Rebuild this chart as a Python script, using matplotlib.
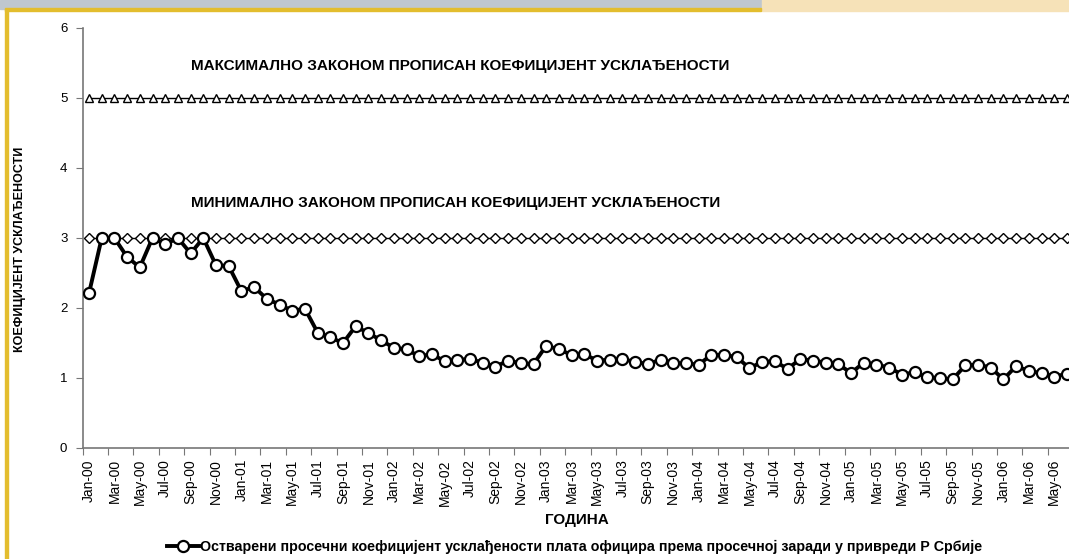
import matplotlib.pyplot as plt
from matplotlib.lines import Line2D
from matplotlib.patches import Rectangle

# Monthly labels Jan-00 .. Jun-06
MONTHS = ["Jan", "Feb", "Mar", "Apr", "May", "Jun",
          "Jul", "Aug", "Sep", "Oct", "Nov", "Dec"]
periods = [f"{m}-{y:02d}" for y in range(0, 7) for m in MONTHS][:78]

# achieved average coefficient
actual = [
    2.21, 3.00, 3.00, 2.73, 2.58, 3.00, 2.91, 3.00, 2.78, 3.00, 2.61, 2.60,
    2.24, 2.30, 2.13, 2.05, 1.96, 1.99, 1.65, 1.58, 1.50, 1.74, 1.64, 1.54,
    1.43, 1.41, 1.31, 1.34, 1.24, 1.26, 1.27, 1.22, 1.16, 1.25, 1.21, 1.20,
    1.46, 1.41, 1.33, 1.34, 1.25, 1.26, 1.27, 1.23, 1.20, 1.26, 1.21, 1.21,
    1.19, 1.33, 1.33, 1.30, 1.14, 1.23, 1.24, 1.13, 1.27, 1.25, 1.22, 1.20,
    1.07, 1.22, 1.19, 1.15, 1.05, 1.08, 1.01, 1.00, 0.98, 1.18, 1.19, 1.15,
    0.98, 1.17, 1.10, 1.07, 1.02, 1.06,
]
max_coef = [5.0] * len(periods)
min_coef = [3.0] * len(periods)

max_text = "МАКСИМАЛНО ЗАКОНОМ ПРОПИСАН КОЕФИЦИЈЕНТ УСКЛАЂЕНОСТИ"
min_text = "МИНИМАЛНО ЗАКОНОМ ПРОПИСАН КОЕФИЦИЈЕНТ УСКЛАЂЕНОСТИ"
legend_text = ("Остварени просечни коефицијент усклађености плата официра "
               "према просечној заради у привреди Р Србије")

plt.rcParams["font.family"] = ["Liberation Sans", "DejaVu Sans"]

W, H = 1069, 559
fig = plt.figure(figsize=(W / 100, H / 100), dpi=100)
fig.patch.set_facecolor("white")

# page decoration around the scanned chart
fig.add_artist(Rectangle((0, 1 - 9 / H), 761 / W, 9 / H, transform=fig.transFigure,
                         color="#bfc7cf", zorder=0))
fig.add_artist(Rectangle((762 / W, 1 - 11 / H), 1 - 762 / W, 11 / H,
                         transform=fig.transFigure, color="#f6e2b8", zorder=0))
fig.add_artist(Rectangle((5 / W, 1 - 11 / H), 756 / W, 3 / H, transform=fig.transFigure,
                         color="#e3bd2e", zorder=1))
fig.add_artist(Rectangle((5 / W, 0), 3 / W, 1 - 9 / H, transform=fig.transFigure,
                         color="#e3bd2e", zorder=1))

step = 12.7
left = 89 - step / 2
ax = fig.add_axes([left / W, 1 - 448 / H, step * len(periods) / W, (448 - 28) / H])
x = list(range(len(periods)))

ax.plot(x, max_coef, color="black", lw=1.0, marker="^", ms=5.5,
        mfc="white", mec="black", mew=1.0)
ax.plot(x, min_coef, color="black", lw=1.0, marker="D", ms=5.5,
        mfc="white", mec="black", mew=1.0)
ax.plot(x, actual, color="black", lw=2.8, marker="o", ms=8,
        mfc="white", mec="black", mew=1.6, zorder=5)

ax.set_xlim(-0.5, len(periods) - 0.5)
ax.set_ylim(0, 6)
ax.set_yticks(range(0, 7))
ax.tick_params(axis="y", labelsize=9.5, length=5, color="#777777", pad=6)

# tick marks between categories, labels at every second month
ax.set_xticks([i - 0.5 for i in range(0, len(periods), 2)])
ax.set_xticklabels([])
ax.set_xticks(x[::2], minor=True)
ax.set_xticklabels(periods[::2], minor=True, rotation=90, fontsize=10)
ax.tick_params(axis="x", which="major", length=5, color="#777777")
ax.tick_params(axis="x", which="minor", length=0, pad=8)

for s in ["top", "right"]:
    ax.spines[s].set_visible(False)
for s in ["left", "bottom"]:
    ax.spines[s].set_color("#777777")
    ax.spines[s].set_linewidth(1.2)

ax.text(8, 5.46, max_text, fontsize=11, fontweight="bold", va="center")
ax.text(8, 3.5, min_text, fontsize=11, fontweight="bold", va="center")

fig.text(20 / W, 1 - 249 / H, "КОЕФИЦИЈЕНТ УСКЛАЂЕНОСТИ", rotation=90,
         fontsize=9, fontweight="bold", ha="center", va="center")
fig.text(577 / W, 1 - 520 / H, "ГОДИНА", fontsize=11, fontweight="bold",
         ha="center", va="center")

handle = Line2D([], [], color="black", lw=2.8, marker="o", ms=8,
                mfc="white", mec="black", mew=1.6)
fig.legend([handle], [legend_text], loc="center", bbox_to_anchor=(575 / W, 1 - 547 / H),
           frameon=False, handlelength=2.2, handletextpad=0.1,
           prop={"weight": "bold", "size": 10.3})

fig.savefig("out.png", dpi=100)
